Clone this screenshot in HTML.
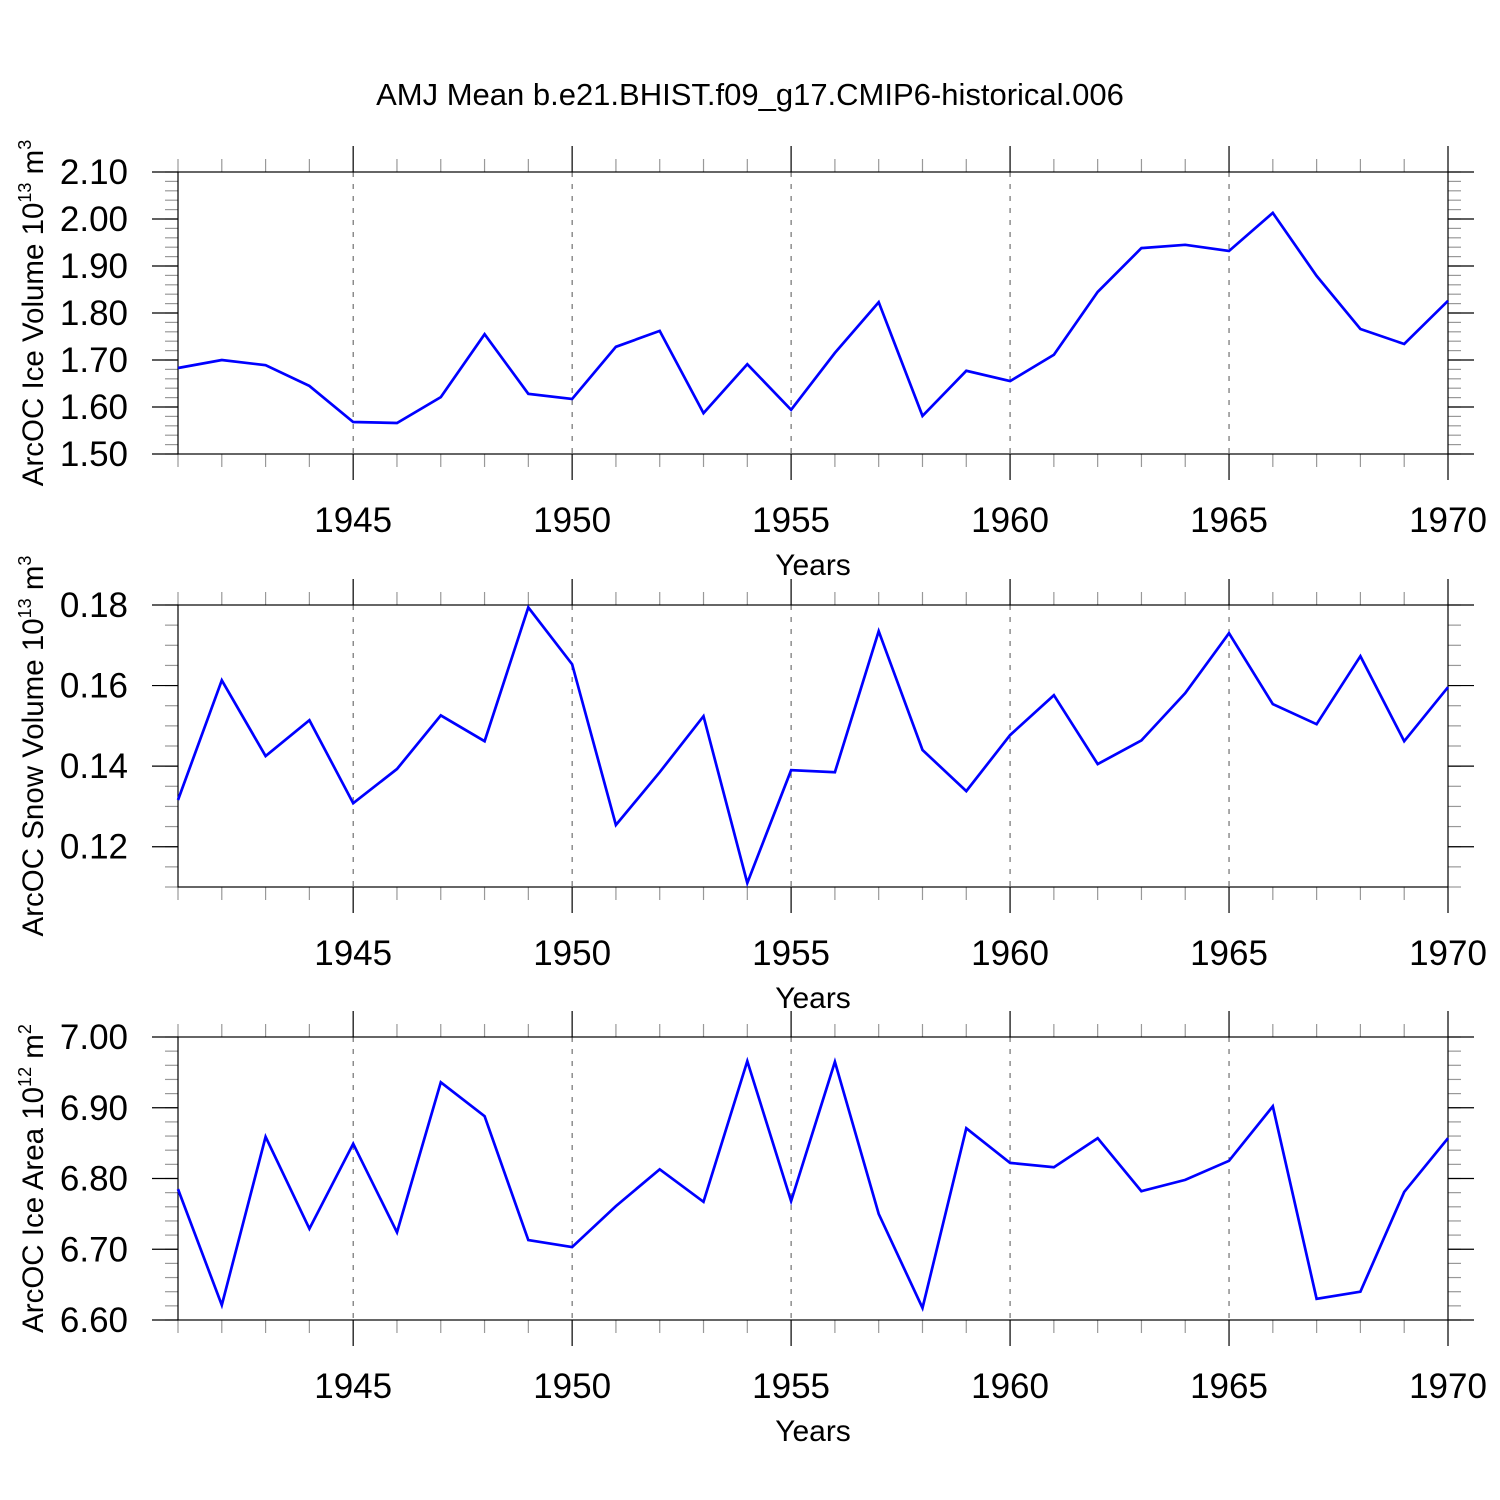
<!DOCTYPE html>
<html><head><meta charset="utf-8"><style>
body{margin:0;background:#fff}
svg{display:block;font-family:"Liberation Sans",Arial,sans-serif}
</style></head><body>
<svg id="chart" width="1500" height="1500" viewBox="0 0 1500 1500" xmlns="http://www.w3.org/2000/svg">
<rect width="1500" height="1500" fill="#fff"/>
<text x="750" y="105" font-size="31" text-anchor="middle">AMJ Mean b.e21.BHIST.f09_g17.CMIP6-historical.006</text>
</svg>
<script>
const years = [1941,1942,1943,1944,1945,1946,1947,1948,1949,1950,1951,1952,1953,1954,1955,1956,1957,1958,1959,1960,1961,1962,1963,1964,1965,1966,1967,1968,1969,1970];
const iceVolume = [1.683,1.700,1.689,1.645,1.568,1.566,1.621,1.755,1.628,1.617,1.728,1.762,1.587,1.691,1.594,1.715,1.823,1.581,1.677,1.655,1.711,1.845,1.938,1.945,1.932,2.013,1.879,1.766,1.734,1.826];
const snowVolume = [0.1316,0.1613,0.1425,0.1514,0.1308,0.1393,0.1526,0.1462,0.1794,0.1653,0.1254,0.1385,0.1524,0.1110,0.1390,0.1385,0.1735,0.1440,0.1338,0.1477,0.1576,0.1405,0.1464,0.1581,0.1730,0.1554,0.1504,0.1673,0.1462,0.1596];
const iceArea = [6.785,6.621,6.859,6.729,6.849,6.724,6.936,6.888,6.713,6.703,6.761,6.813,6.767,6.966,6.768,6.965,6.750,6.617,6.871,6.822,6.816,6.857,6.782,6.798,6.825,6.902,6.630,6.640,6.781,6.857];
const xTickLabels = ["1945","1950","1955","1960","1965","1970"];
const p1Ticks = ["1.50","1.60","1.70","1.80","1.90","2.00","2.10"];
const p2Ticks = ["0.12","0.14","0.16","0.18"];
const p3Ticks = ["6.60","6.70","6.80","6.90","7.00"];

const NS="http://www.w3.org/2000/svg";
const svg=document.getElementById('chart');
const X0=178,X1=1448,XMIN=1941,XMAX=1970;
function xs(v){return X0+(v-XMIN)/(XMAX-XMIN)*(X1-X0);}
function mk(tag,attrs,parent){const e=document.createElementNS(NS,tag);for(const k in attrs)e.setAttribute(k,attrs[k]);(parent||svg).appendChild(e);return e;}

const panels=[
 {name:'ice-volume',top:172,bot:454,min:1.50,max:2.10,minor:0.02,ticks:p1Ticks,data:iceVolume,label:'ArcOC Ice Volume 10',sup1:'13',unit:' m',sup2:'3'},
 {name:'snow-volume',top:605,bot:887,min:0.11,max:0.18,minor:0.005,ticks:p2Ticks,data:snowVolume,label:'ArcOC Snow Volume 10',sup1:'13',unit:' m',sup2:'3'},
 {name:'ice-area',top:1037,bot:1320,min:6.60,max:7.00,minor:0.02,ticks:p3Ticks,data:iceArea,label:'ArcOC Ice Area 10',sup1:'12',unit:' m',sup2:'2'}
];

panels.forEach(p=>{
 const g=mk('g',{});
 
 
 const ys=v=>p.bot-(v-p.min)/(p.max-p.min)*(p.bot-p.top);
 xTickLabels.forEach(t=>{const x=xs(+t);if(x<X1-1){const l=mk('line',{x1:x,x2:x,y1:p.top,y2:p.bot,stroke:'#555','stroke-width':1,'stroke-dasharray':'5,7'},g);}});
 years.forEach(yr=>{const x=xs(yr);const major=yr%5===0;const len=major?26:13;const c=major?'#000':'#999';
  mk('line',{x1:x,x2:x,y1:p.top-len,y2:p.top,stroke:c,'stroke-width':1.2},g);
  mk('line',{x1:x,x2:x,y1:p.bot,y2:p.bot+len,stroke:c,'stroke-width':1.2},g);});
 const n=Math.round((p.max-p.min)/p.minor);
 for(let i=0;i<=n;i++){const y=ys(p.min+i*p.minor);
  mk('line',{x1:X0-13,x2:X0,y1:y,y2:y,stroke:'#999','stroke-width':1.2},g);
  mk('line',{x1:X1,x2:X1+13,y1:y,y2:y,stroke:'#999','stroke-width':1.2},g);}
 p.ticks.forEach(t=>{const y=ys(+t);
  mk('line',{x1:X0-26,x2:X0,y1:y,y2:y,stroke:'#000','stroke-width':1.2},g);
  mk('line',{x1:X1,x2:X1+26,y1:y,y2:y,stroke:'#000','stroke-width':1.2},g);
  const tx=mk('text',{x:128,y:y+12,'font-size':35,'text-anchor':'end'},g);tx.textContent=t;
  
  });
 mk('rect',{x:X0,y:p.top,width:X1-X0,height:p.bot-p.top,fill:'none',stroke:'#000','stroke-width':1.2},g);
 xTickLabels.forEach(t=>{const tx=mk('text',{x:xs(+t),y:p.bot+78,'font-size':35,'text-anchor':'middle'},g);tx.textContent=t;
  
  });
 const xt=mk('text',{x:813,y:p.bot+121,'font-size':30,'text-anchor':'middle'},g);xt.textContent='Years';
 
 
 const cy=(p.top+p.bot)/2;
 const yt=mk('text',{x:0,y:0,'font-size':29.5,'text-anchor':'middle',transform:`translate(43,${cy}) rotate(-90)`},g);
 
 
 const s0=mk('tspan',{},yt);s0.textContent=p.label;
 const s1=mk('tspan',{dy:-12,'font-size':18},yt);s1.textContent=p.sup1;
 const s2=mk('tspan',{dy:12},yt);s2.textContent=p.unit;
 const s3=mk('tspan',{dy:-12,'font-size':18},yt);s3.textContent=p.sup2;
 const pts=years.map((yr,i)=>xs(yr).toFixed(1)+','+ys(p.data[i]).toFixed(1)).join(' ');
 const pl=mk('polyline',{points:pts,fill:'none',stroke:'#0000ff','stroke-width':2.7,'stroke-linejoin':'miter'},g);
 
 
});
</script>
</body></html>
